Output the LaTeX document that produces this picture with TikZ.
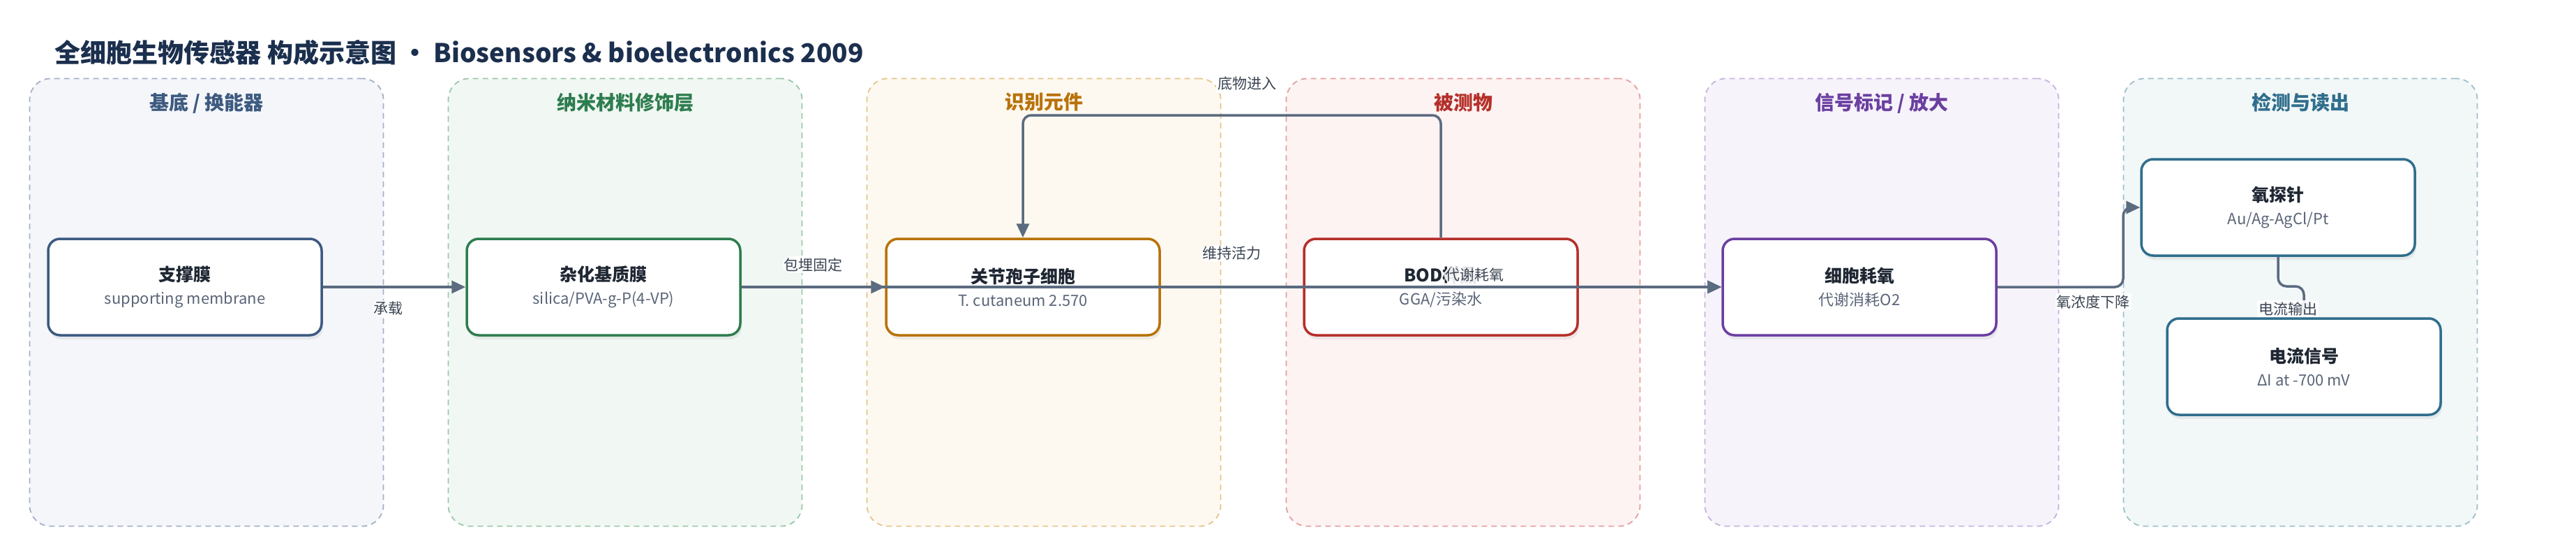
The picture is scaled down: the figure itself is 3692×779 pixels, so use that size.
\documentclass[tikz,border=0pt]{standalone}
\usepackage{fontspec}
\setmainfont{Noto Sans CJK SC}
\usepackage{xcolor}
\usetikzlibrary{arrows.meta, positioning, calc, shadows}
\definecolor{titlenavy}{HTML}{1B2F4E}
\definecolor{boxtext}{HTML}{1F2733}
\definecolor{subgray}{HTML}{5A6578}
\definecolor{arrowgray}{HTML}{5B6B80}
\definecolor{labeltext}{HTML}{3A4452}
% lane colours: fill, dashed border, accent
\definecolor{fillA}{HTML}{F4F6FA}\definecolor{lineA}{HTML}{A3B1C8}\definecolor{accA}{HTML}{3D5A80}
\definecolor{fillB}{HTML}{F1F8F3}\definecolor{lineB}{HTML}{9DC7A9}\definecolor{accB}{HTML}{2E7D4F}
\definecolor{fillC}{HTML}{FEF9F0}\definecolor{lineC}{HTML}{E5C48E}\definecolor{accC}{HTML}{B8720A}
\definecolor{fillD}{HTML}{FDF3F3}\definecolor{lineD}{HTML}{E3A0A0}\definecolor{accD}{HTML}{B5302A}
\definecolor{fillE}{HTML}{F6F3FB}\definecolor{lineE}{HTML}{C7B3DE}\definecolor{accE}{HTML}{6B3FA0}
\definecolor{fillF}{HTML}{F2F7F8}\definecolor{lineF}{HTML}{9DC0CB}\definecolor{accF}{HTML}{2F6E8C}

\begin{document}
\begin{tikzpicture}[
    x=1pt, y=-1pt,
    every node/.style={font=\fontsize{21}{25}\selectfont},
    lane/.style={
        rectangle,
        rounded corners=30pt,
        dash pattern=on 8pt off 6pt,
        line width=1.8pt,
        minimum width=507pt,
        minimum height=641pt
    },
    lanehead/.style={
        font=\fontsize{28}{32}\selectfont\bfseries
    },
    box/.style={
        rectangle,
        rounded corners=17pt,
        fill=white,
        line width=3.5pt,
        minimum width=392pt,
        minimum height=138pt,
        align=center,
        text=boxtext,
        font=\fontsize{25}{30}\selectfont\bfseries,
        drop shadow={shadow xshift=2pt, shadow yshift=-6pt, opacity=0.12}
    },
    myarrow/.style={
        -{Triangle[length=20pt, width=18pt]},
        line width=3.5pt,
        draw=arrowgray,
        rounded corners=12pt
    },
    mylabel/.style={
        font=\fontsize{21}{25}\selectfont,
        text=labeltext,
        fill=white,
        fill opacity=0.9,
        text opacity=1,
        inner sep=2pt
    }
]

\fill[white] (0,0) rectangle (3692,779);
\useasboundingbox (0,0) rectangle (3692,779);

% Title
\node[anchor=west, font=\fontsize{37}{44}\selectfont\bfseries, text=titlenavy] (title) at (75,75)
    {全细胞生物传感器 构成示意图 · Biosensors \& bioelectronics 2009};

% Lanes
\node[lane, draw=lineA, fill=fillA] (laneA) at (296,433) {};
\node[lane, draw=lineB, fill=fillB] (laneB) at (896,433) {};
\node[lane, draw=lineC, fill=fillC] (laneC) at (1496,433) {};
\node[lane, draw=lineD, fill=fillD] (laneD) at (2097,433) {};
\node[lane, draw=lineE, fill=fillE] (laneE) at (2697,433) {};
\node[lane, draw=lineF, fill=fillF] (laneF) at (3297,433) {};

% Lane headers
\node[lanehead, text=accA, below=18pt of laneA.north] (headA) {基底 / 换能器};
\node[lanehead, text=accB, below=18pt of laneB.north] (headB) {纳米材料修饰层};
\node[lanehead, text=accC, below=18pt of laneC.north] (headC) {识别元件};
\node[lanehead, text=accD, below=18pt of laneD.north] (headD) {被测物};
\node[lanehead, text=accE, below=18pt of laneE.north] (headE) {信号标记 / 放大};
\node[lanehead, text=accF, below=18pt of laneF.north] (headF) {检测与读出};

% Boxes
\node[box, draw=accA] (membrane) at (265,411)
    {支撑膜\\[3pt]{\mdseries\fontsize{22}{26}\selectfont\color{subgray}supporting membrane}};
\node[box, draw=accB] (matrix) at (865,411)
    {杂化基质膜\\[3pt]{\mdseries\fontsize{22}{26}\selectfont\color{subgray}silica/PVA-g-P(4-VP)}};
\node[box, draw=accC] (cell) at (1466,411)
    {关节孢子细胞\\[3pt]{\mdseries\fontsize{22}{26}\selectfont\color{subgray}T. cutaneum 2.570}};
\node[box, draw=accD] (bod) at (2065,411)
    {BOD样品\\[3pt]{\mdseries\fontsize{22}{26}\selectfont\color{subgray}GGA/污染水}};
\node[box, draw=accE] (o2use) at (2665,411)
    {细胞耗氧\\[3pt]{\mdseries\fontsize{22}{26}\selectfont\color{subgray}代谢消耗O2}};
\node[box, draw=accF] (probe) at (3265,297)
    {氧探针\\[3pt]{\mdseries\fontsize{22}{26}\selectfont\color{subgray}Au/Ag-AgCl/Pt}};
\node[box, draw=accF] (readout) at (3302,525)
    {电流信号\\[3pt]{\mdseries\fontsize{22}{26}\selectfont\color{subgray}ΔI at -700 mV}};

% Bend points
\coordinate (looptop) at (1766,165);
\coordinate (kink) at (3043,297);
\coordinate (kink2) at (3302,410);

% Arrows
\draw[myarrow] (membrane) -- (matrix) node[mylabel, pos=0.46, yshift=-31pt] (lcarry) {承载};
\draw[myarrow] (matrix) -- (cell) node[mylabel, midway, yshift=32pt] (lembed) {包埋固定};
\draw[myarrow] (matrix) -- (o2use) node[mylabel, midway, yshift=48pt] (lkeep) {维持活力};
\draw[myarrow] (bod.north) |- (looptop) -| (cell.north);
\node[mylabel] (lsub) at (1787,120) {底物进入};
\draw[myarrow] (cell) -- (o2use) node[mylabel, pos=0.56, yshift=17pt] (lmeta) {代谢耗氧};
\draw[myarrow] (o2use.east) -| (kink) -- (probe.west);
\node[mylabel] (ldrop) at (3000,432) {氧浓度下降};
\draw[myarrow] (probe.south) |- (kink2) -- (readout.north);
\node[mylabel] (lout) at (3279,442) {电流输出};

\end{tikzpicture}
\end{document}
